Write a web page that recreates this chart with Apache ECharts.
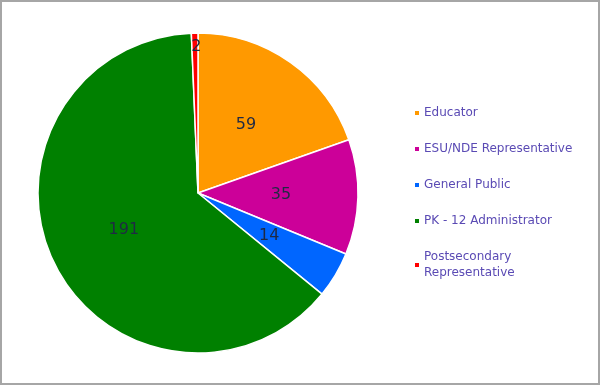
<!DOCTYPE html>
<html><head><meta charset="utf-8">
<script src="https://cdn.jsdelivr.net/npm/echarts@6/dist/echarts.min.js"></script>
<style>
html,body{margin:0;padding:0;background:#fff;}
#c{width:600px;height:385px;box-sizing:border-box;border:2px solid #a6a6a6;}
</style></head><body>
<div id="c"></div>
<script>
const categories = ["Educator", "ESU/NDE Representative", "General Public", "PK - 12 Administrator", "Postsecondary\nRepresentative"];
const values = [59, 35, 14, 191, 2];
const colors = ["#FF9900", "#CC0099", "#0066FF", "#008000", "#FF0000"];

const chart = echarts.init(document.getElementById('c'));
chart.setOption({
  animation: false,
  color: colors,
  legend: {
    orient: 'vertical',
    left: 411,
    top: 103,
    padding: 0,
    itemWidth: 6,
    itemHeight: 6,
    itemGap: 20,
    icon: 'rect',
    textStyle: { color: '#5a4ab4', fontSize: 12, fontFamily: 'DejaVu Sans', lineHeight: 16, padding: [0, 0, 0, -1] },
    data: categories
  },
  series: [{
    type: 'pie',
    center: [196, 191],
    radius: [0, 160],
    startAngle: 90,
    clockwise: true,
    itemStyle: { borderColor: '#fff', borderWidth: 1.5 },
    label: { position: 'inside', color: '#1f2a44', fontSize: 16, fontFamily: 'DejaVu Sans' },
    labelLayout: function (p) { return p.dataIndex === 4 ? { dy: -63 } : {}; },
    emphasis: { disabled: true },
    data: categories.map((n, i) => ({ name: n, value: values[i], label: { formatter: String(values[i]) } }))
  }]
});
</script>
</body></html>
